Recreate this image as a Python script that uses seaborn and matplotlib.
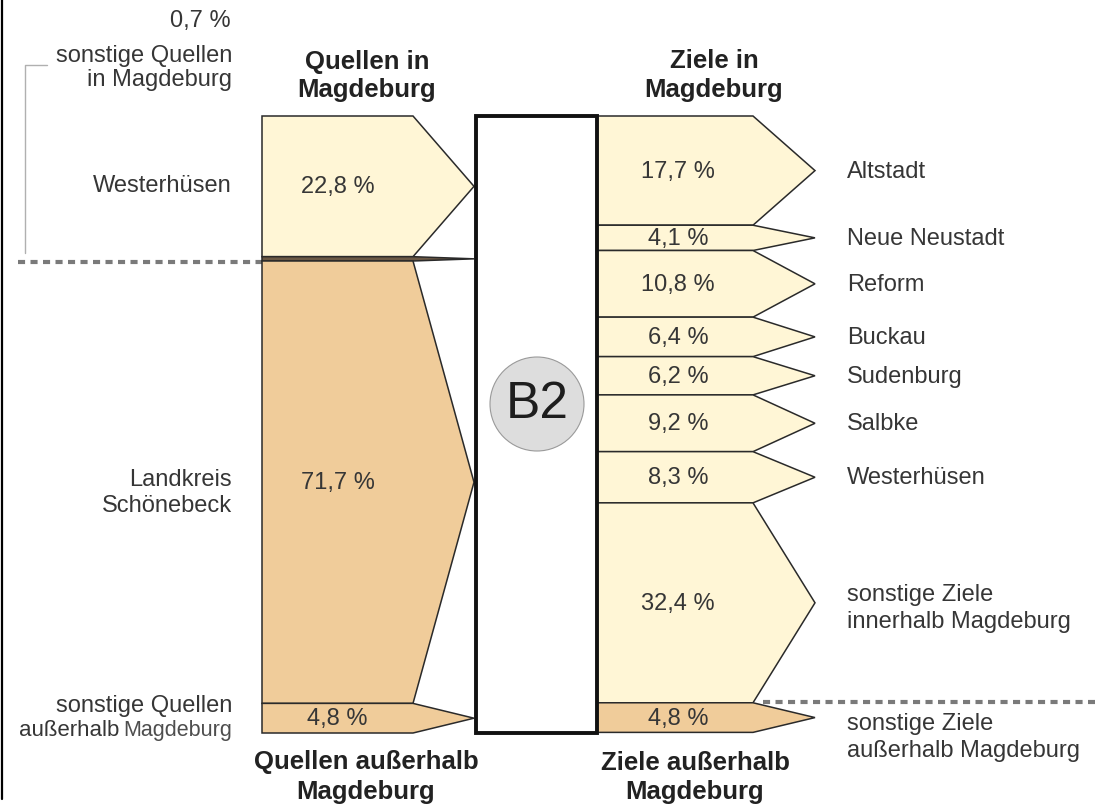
import numpy as np
import matplotlib
matplotlib.use("Agg")
import matplotlib.pyplot as plt
from matplotlib.patches import Rectangle, Circle
import seaborn as sns

# ---------------- data ----------------
source_labels = ["Westerhüsen", "sonstige Quellen\nin Magdeburg",
                 "Landkreis\nSchönebeck", "sonstige Quellen\naußerhalb Magdeburg"]
source_values = [22.8, 0.7, 71.7, 4.8]
source_kind = ["in", "small", "out", "out"]

target_labels = ["Altstadt", "Neue Neustadt", "Reform", "Buckau", "Sudenburg",
                 "Salbke", "Westerhüsen", "sonstige Ziele\ninnerhalb Magdeburg",
                 "sonstige Ziele\naußerhalb Magdeburg"]
target_values = [17.7, 4.1, 10.8, 6.4, 6.2, 9.2, 8.3, 32.4, 4.8]
target_kind = ["in"] * 8 + ["out"]

headers = ["Quellen in\nMagdeburg", "Ziele in\nMagdeburg",
           "Quellen außerhalb\nMagdeburg", "Ziele außerhalb\nMagdeburg"]
center_label = "B2"

# ---------------- style ----------------
sns.set_theme(style="white")
plt.rcParams["font.family"] = ["Liberation Sans", "DejaVu Sans"]

colors = {"in": "#FFF6D6", "out": "#F0CC9A", "small": "#6B5844"}
TXT = "#363636"
FS = 17

W, H = 1102, 808
fig = plt.figure(figsize=(W / 100, H / 100), dpi=100)
ax = fig.add_axes([0, 0, 1, 1])
ax.set_xlim(0, W)
ax.set_ylim(H, 0)
ax.axis("off")

Y0, Y1 = 116, 733
scale = (Y1 - Y0) / 100.0
LX0, LX1, LTIP = 262, 413, 474
RX0, RX1, RTIP = 597, 753, 815
BX0, BX1 = 476, 597


def pct(v):
    return f"{v:.1f} %".replace(".", ",")


def multiline(x, yc, text, ha, lh=26, **kw):
    lines = text.split("\n")
    n = len(lines)
    out = []
    for k, ln in enumerate(lines):
        out.append(ax.text(x, yc + (k - (n - 1) / 2) * lh, ln, ha=ha, va="center",
                           fontsize=FS, color=TXT, **kw))
    return out


# ---------------- sources (left) ----------------
cum = np.concatenate([[0], np.cumsum(source_values)])
src_mid = []
for i, v in enumerate(source_values):
    t = Y0 + cum[i] * scale
    b = Y0 + cum[i + 1] * scale
    m = (t + b) / 2
    src_mid.append(m)
    ax.fill([LX0, LX1, LTIP, LX1, LX0], [t, t, m, b, b],
            facecolor=colors[source_kind[i]], edgecolor="#2a2a2a", lw=1.1, zorder=2)
    if source_kind[i] != "small":
        ax.text((LX0 + LX1) / 2, m + 1, pct(v), ha="center", va="center",
                fontsize=FS, color=TXT, zorder=4)

src_label_offset = {0: 0, 2: 11}
for i, lab in enumerate(source_labels):
    if i in (1, 3):
        continue
    multiline(232, src_mid[i] + src_label_offset[i], lab, "right", lh=26)

# last source label: "Magdeburg" written a little smaller/lighter as in the original
l1, l2 = source_labels[3].split("\n")
w1, w2 = l2.split(" ")
ax.text(232, src_mid[3] - 12, l1, ha="right", va="center", fontsize=FS, color=TXT)
t_small = ax.text(232, src_mid[3] + 12, w2, ha="right", va="center", fontsize=15.5,
                  color="#4e4e4e")
fig.canvas.draw()
bb = t_small.get_window_extent(renderer=fig.canvas.get_renderer())
x_left = ax.transData.inverted().transform((bb.x0, bb.y0))[0]
ax.text(x_left - 4, src_mid[3] + 12, w1, ha="right", va="center", fontsize=16, color=TXT)

# small 0.7 % source: label at top-left with bracket
ax.text(231, 21, pct(source_values[1]), ha="right", va="center", fontsize=FS, color=TXT)
multiline(232, 68, source_labels[1], "right", lh=24)
ax.plot([47, 25, 25], [65, 65, 253], color="#b0b0b0", lw=1.0, zorder=1)

# dotted separator (left)
sep_left = Y0 + (cum[2]) * scale
ax.plot([18, LX0], [sep_left + 1, sep_left + 1], color="#7a7a7a", lw=3.0,
        linestyle=(0, (1.7, 1.3)), zorder=1)

# ---------------- targets (right) ----------------
cumt = np.concatenate([[0], np.cumsum(target_values)])
tgt_mid = []
for i, v in enumerate(target_values):
    t = Y0 + cumt[i] * scale
    b = Y0 + cumt[i + 1] * scale
    m = (t + b) / 2
    tgt_mid.append(m)
    ax.fill([RX0, RX1, RTIP, RX1, RX0], [t, t, m, b, b],
            facecolor=colors[target_kind[i]], edgecolor="#2a2a2a", lw=1.1, zorder=2)
    ax.text((RX0 + RX1) / 2 + 3, m + 1, pct(v), ha="center", va="center",
            fontsize=FS, color=TXT, zorder=4)

tgt_label_offset = {7: 5, 8: 19}
for i, lab in enumerate(target_labels):
    multiline(847, tgt_mid[i] + 1 + tgt_label_offset.get(i, 0), lab, "left", lh=27)

sep_right = Y0 + cumt[8] * scale
ax.plot([763, 1095], [sep_right - 1, sep_right - 1], color="#7a7a7a", lw=3.0,
        linestyle=(0, (1.7, 1.3)), zorder=1)

# ---------------- central box ----------------
ax.add_patch(Rectangle((BX0, Y0), BX1 - BX0, Y1 - Y0, facecolor="white",
                       edgecolor="#111111", lw=2.8, zorder=3))
ax.add_patch(Circle((537, 404), 47, facecolor="#DDDDDD", edgecolor="#9a9a9a",
                    lw=0.8, zorder=4))
ax.text(537, 405, center_label, ha="center", va="center", fontsize=37,
        color="#1e1e1e", zorder=5)

# ---------------- headers ----------------
hdr_pos = [(367, 76), (714, 76), (366, 777), (695, 777)]
for (x, y), h in zip(hdr_pos, headers):
    lines = h.split("\n")
    for k, ln in enumerate(lines):
        ax.text(x, y + (k - 0.5) * 29, ln, ha="center", va="center",
                fontsize=18.5, fontweight="bold", color="#222222")

# left border line
ax.plot([1.5, 1.5], [0, 799], color="black", lw=1.6)

fig.savefig("out.png", dpi=100)
